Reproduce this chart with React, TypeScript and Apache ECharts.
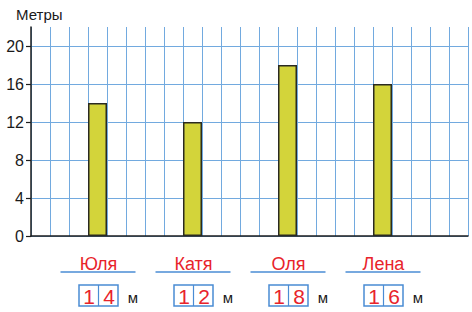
import React, { useEffect, useRef } from 'react';
import * as echarts from 'echarts';

const names = ['Юля', 'Катя', 'Оля', 'Лена'];
const values = [14, 12, 18, 16];
const barCells = [3, 8, 13, 18]; // grid cell (along x) in which each bar stands
const yTickLabels = [0, 4, 8, 12, 16, 20];
const yMax = 22;
const xCells = 23;
const unit = 'м';
const yTitle = 'Метры';

const FONT = '"Liberation Sans", Arial, sans-serif';
const RED = '#e8232b';
const BLUE = '#4a8cd4';

export default function App() {
  const ref = useRef<HTMLDivElement>(null);
  useEffect(() => {
    document.body.style.margin = '0';
    const chart = echarts.init(ref.current!, null, { renderer: 'svg' });
    const gridLine = { show: true, lineStyle: { color: '#72aadf', width: 1 } };
    chart.setOption({
      animation: false,
      grid: { left: 31, right: 4, top: 27, bottom: 76 },
      xAxis: {
        type: 'value', min: 0, max: xCells, interval: 1,
        axisLine: { show: true, onZero: false, lineStyle: { color: '#1e1e1e', width: 1.5 } },
        axisTick: { show: false }, axisLabel: { show: false },
        splitLine: gridLine,
      },
      yAxis: {
        type: 'value', min: 0, max: yMax, interval: 2,
        axisLine: { show: true, lineStyle: { color: '#1e1e1e', width: 1.5 } },
        axisTick: { show: true, length: 5, customValues: yTickLabels, lineStyle: { color: '#1e1e1e', width: 1.2 } },
        axisLabel: {
          customValues: yTickLabels, margin: 7, fontSize: 16, color: '#1a1a1a', fontFamily: FONT,
          formatter: (v: number) => (v % 4 === 0 && v <= 20 ? String(v) : ''),
        },
        splitLine: gridLine,
      },
      series: [{
        type: 'bar',
        data: values.map((v, i) => [barCells[i] + 0.5, v]),
        barWidth: 19,
        itemStyle: { color: '#d3d43a', borderColor: '#2a2a22', borderWidth: 1.5 },
      }],
    });

    const graphics: any[] = [
      { type: 'text', left: 16, top: 7, style: { text: yTitle, font: `15px ${FONT}`, fill: '#1a1a1a' } },
    ];
    names.forEach((name, i) => {
      const [cx] = chart.convertToPixel({ xAxisIndex: 0, yAxisIndex: 0 }, [barCells[i] + 0.5, 0]) as number[];
      graphics.push({
        type: 'line', shape: { x1: cx - 37, y1: 272, x2: cx + 38, y2: 272 },
        style: { stroke: BLUE, lineWidth: 1.5 },
      });
      graphics.push({
        type: 'text', x: cx + 1, y: 273,
        style: { text: name, font: `18px ${FONT}`, fill: RED, align: 'center', verticalAlign: 'bottom' },
      });
      graphics.push({
        type: 'rect', shape: { x: cx - 18.5, y: 285, width: 39, height: 21 },
        style: { fill: 'none', stroke: BLUE, lineWidth: 1.5 },
      });
      graphics.push({
        type: 'line', shape: { x1: cx + 1, y1: 285, x2: cx + 1, y2: 306 },
        style: { stroke: BLUE, lineWidth: 1.2 },
      });
      String(values[i]).split('').forEach((d, k) => {
        graphics.push({
          type: 'text', x: cx - 8.5 + k * 20, y: 296.5,
          style: { text: d, font: `21px ${FONT}`, fill: RED, align: 'center', verticalAlign: 'middle' },
        });
      });
      graphics.push({
        type: 'text', x: cx + 35.5, y: 297,
        style: { text: unit, font: `15px ${FONT}`, fill: '#1a1a1a', align: 'center', verticalAlign: 'middle' },
      });
    });
    chart.setOption({ graphic: graphics });
    return () => chart.dispose();
  }, []);
  return <div ref={ref} style={{ width: 472, height: 312 }} />;
}
